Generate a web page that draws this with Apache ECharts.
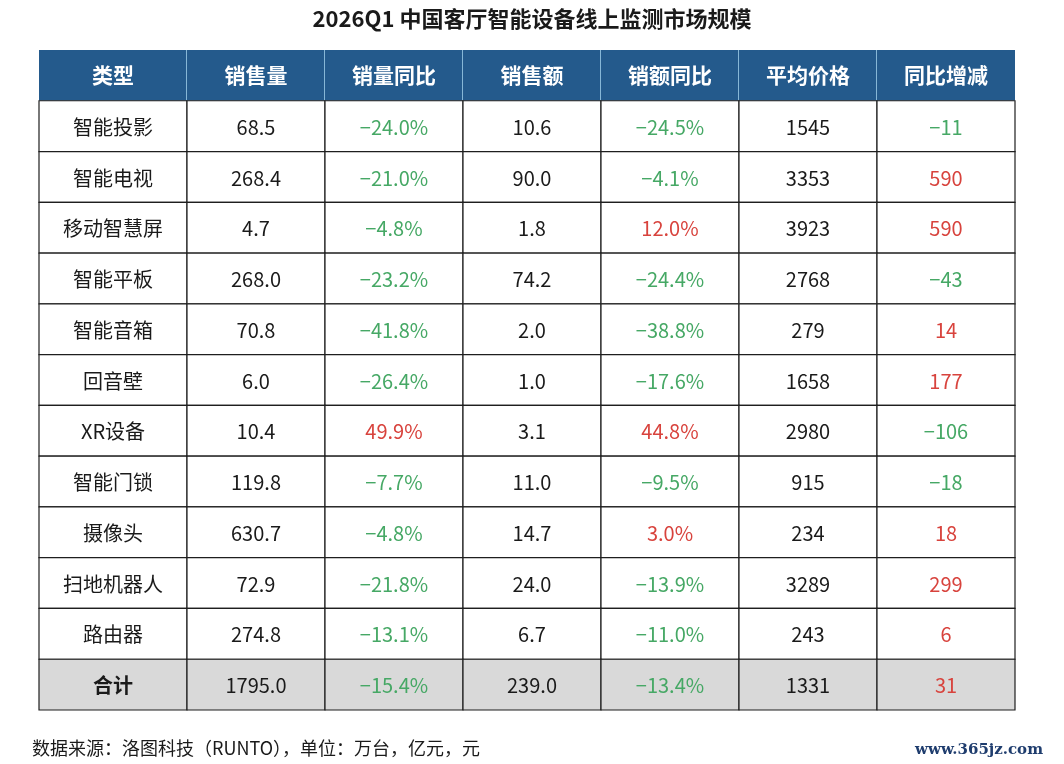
<!DOCTYPE html>
<html>
<head>
<meta charset="utf-8">
<script src="https://cdn.jsdelivr.net/npm/echarts@6/dist/echarts.min.js"></script>
<style>
html,body{margin:0;padding:0;background:#fff;}
#chart{width:1064px;height:764px;}
</style>
</head>
<body>
<div id="chart"></div>
<script>
const titleText = '2026Q1 中国客厅智能设备线上监测市场规模';
const footerText = '数据来源：洛图科技（RUNTO），单位：万台，亿元，元';
const watermarkText = 'www.365jz.com';
const firstHeader = '类型';
const headers = ['销售量', '销量同比', '销售额', '销额同比', '平均价格', '同比增减'];
const categories = ['智能投影','智能电视','移动智慧屏','智能平板','智能音箱','回音壁','XR设备','智能门锁','摄像头','扫地机器人','路由器','合计'];
const salesVolume = [68.5, 268.4, 4.7, 268.0, 70.8, 6.0, 10.4, 119.8, 630.7, 72.9, 274.8, 1795.0];
const volumeYoY = [-24.0, -21.0, -4.8, -23.2, -41.8, -26.4, 49.9, -7.7, -4.8, -21.8, -13.1, -15.4];
const salesValue = [10.6, 90.0, 1.8, 74.2, 2.0, 1.0, 3.1, 11.0, 14.7, 24.0, 6.7, 239.0];
const valueYoY = [-24.5, -4.1, 12.0, -24.4, -38.8, -17.6, 44.8, -9.5, 3.0, -13.9, -11.0, -13.4];
const avgPrice = [1545, 3353, 3923, 2768, 279, 1658, 2980, 915, 234, 3289, 243, 1331];
const priceChange = [-11, 590, 590, -43, 14, 177, -106, -18, 18, 299, 6, 31];

const HEADER_BG = '#245a8c';
const HEADER_DIV = '#a9d7f0';
const TOTAL_BG = '#d9d9d9';
const GREEN = '#46a865';
const RED = '#d8433d';
const DARK = '#1a1a1a';
const FONT = '"Noto Sans CJK SC", "Noto Sans", sans-serif';

const rowLabels = ['header'].concat(categories);
const totalRow = categories.length; // index in rowLabels of 合计

function sgn(v) { return v < 0 ? 'neg' : 'pos'; }
function fmtPct(v) { return (v < 0 ? '−' + Math.abs(v).toFixed(1) : v.toFixed(1)) + '%'; }
function fmtInt(v) { return v < 0 ? '−' + Math.abs(v) : String(v); }

// grid 0: first column
const data0 = [[0, 0, firstHeader, 'head']];
categories.forEach((c, i) => data0.push([0, i + 1, c, i + 1 === totalRow ? 'totalName' : 'plain']));

// grid 1: numeric columns
const data1 = [];
headers.forEach((h, j) => data1.push([j, 0, h, 'head']));
categories.forEach((c, i) => {
  const r = i + 1;
  data1.push([0, r, salesVolume[i].toFixed(1), 'plain']);
  data1.push([1, r, fmtPct(volumeYoY[i]), sgn(volumeYoY[i])]);
  data1.push([2, r, salesValue[i].toFixed(1), 'plain']);
  data1.push([3, r, fmtPct(valueYoY[i]), sgn(valueYoY[i])]);
  data1.push([4, r, String(avgPrice[i]), 'plain']);
  data1.push([5, r, fmtInt(priceChange[i]), sgn(priceChange[i])]);
});

function makeRender(nCols) {
  return function (params, api) {
    const col = api.value(0);
    const row = api.value(1);
    const item = (params.seriesIndex === 0 ? data0 : data1)[params.dataIndex];
    const text = item[2];
    const kind = item[3];
    const c = api.coord([col, row]);
    const s = api.size([1, 1]);
    const x0 = c[0] - s[0] / 2, y0 = c[1] - s[1] / 2;
    const children = [];
    if (row === 0) {
      children.push({ type: 'rect', shape: { x: x0, y: y0, width: s[0], height: s[1] }, style: { fill: HEADER_BG } });
      const isLastGlobal = params.seriesIndex === 1 && col === nCols - 1;
      if (!isLastGlobal) {
        children.push({ type: 'line', shape: { x1: x0 + s[0], y1: y0, x2: x0 + s[0], y2: y0 + s[1] }, style: { stroke: HEADER_DIV, lineWidth: 1.5 } });
      }
      children.push({ type: 'text', style: { x: c[0], y: c[1], text: text, align: 'center', verticalAlign: 'middle', fill: '#ffffff', font: 'bold 21px ' + FONT } });
    } else {
      const fill = row === totalRow ? TOTAL_BG : '#ffffff';
      children.push({ type: 'rect', shape: { x: x0, y: y0, width: s[0], height: s[1] }, style: { fill: fill, stroke: '#1e1e1e', lineWidth: 1.2 } });
      let color = DARK, weight = 'normal';
      if (kind === 'neg') color = GREEN;
      if (kind === 'pos') color = RED;
      if (kind === 'totalName') weight = 'bold';
      children.push({ type: 'text', style: { x: c[0], y: c[1] + 1, text: text, align: 'center', verticalAlign: 'middle', fill: color, font: weight + ' 20px ' + FONT } });
    }
    return { type: 'group', children: children };
  };
}

const chart = echarts.init(document.getElementById('chart'), null, { renderer: 'canvas' });
const hiddenAxis = { show: false };
chart.setOption({
  animation: false,
  backgroundColor: '#ffffff',
  title: [
    { text: titleText, left: 'center', top: 3, textStyle: { fontSize: 22, fontWeight: 'bold', color: '#1a1a1a', fontFamily: FONT } },
    { text: footerText, left: 27, top: 734, textStyle: { fontSize: 18, fontWeight: 'normal', color: '#1a1a1a', fontFamily: FONT } },
    { text: watermarkText, right: 16, top: 738, textStyle: { fontSize: 15, fontWeight: 'bold', color: '#1f3d6e', fontFamily: '"DejaVu Serif", "Liberation Serif", serif' } }
  ],
  grid: [
    { left: 39, top: 50, width: 148, height: 660 },
    { left: 187, top: 50, width: 828, height: 660 }
  ],
  xAxis: [
    Object.assign({ type: 'category', gridIndex: 0, data: [firstHeader] }, hiddenAxis),
    Object.assign({ type: 'category', gridIndex: 1, data: headers }, hiddenAxis)
  ],
  yAxis: [
    Object.assign({ type: 'category', gridIndex: 0, data: rowLabels, inverse: true }, hiddenAxis),
    Object.assign({ type: 'category', gridIndex: 1, data: rowLabels, inverse: true }, hiddenAxis)
  ],
  series: [
    { type: 'custom', xAxisIndex: 0, yAxisIndex: 0, data: data0.map(d => [d[0], d[1]]), renderItem: makeRender(1), encode: { x: 0, y: 1 } },
    { type: 'custom', xAxisIndex: 1, yAxisIndex: 1, data: data1.map(d => [d[0], d[1]]), renderItem: makeRender(headers.length), encode: { x: 0, y: 1 } }
  ]
});
</script>
</body>
</html>
